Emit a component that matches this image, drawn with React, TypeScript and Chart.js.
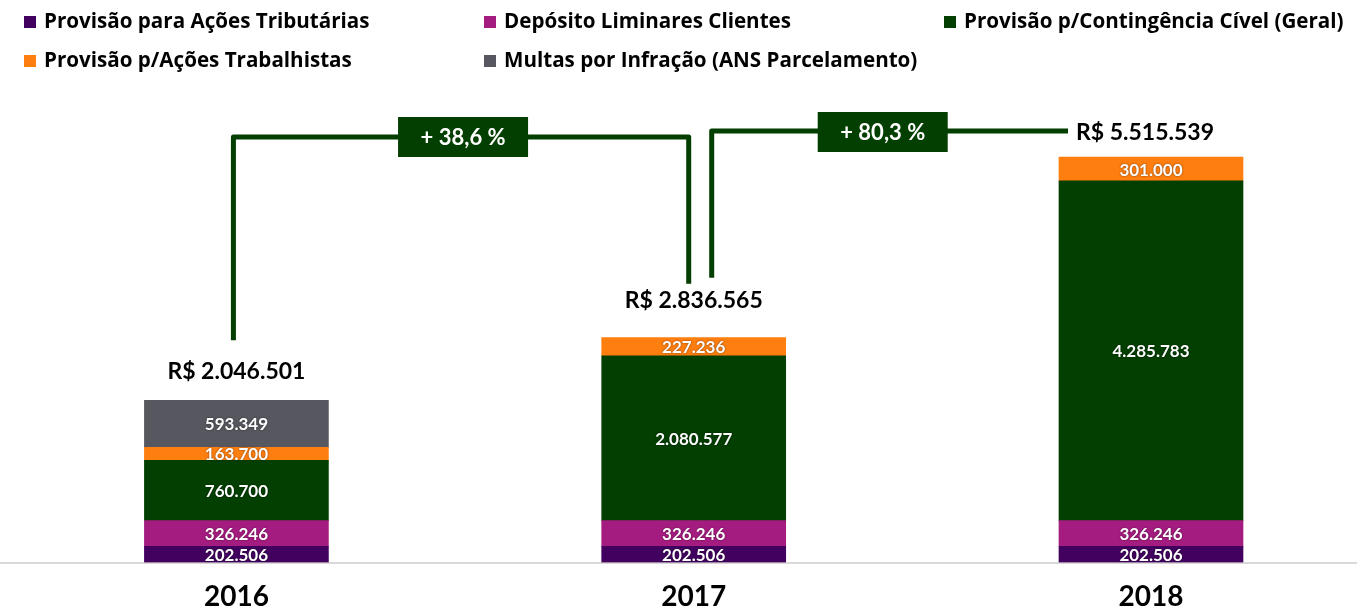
import React, { useEffect, useRef } from 'react';
import { Chart, registerables } from 'chart.js';

Chart.register(...registerables);

// ---- data ----
const years = ['2016', '2017', '2018'];
const seriesNames = [
  'Provisão para Ações Tributárias',
  'Depósito Liminares Clientes',
  'Provisão p/Contingência Cível (Geral)',
  'Provisão p/Ações Trabalhistas',
  'Multas por Infração (ANS Parcelamento)',
];
const tributarias = [202506, 202506, 202506];
const depositos = [326246, 326246, 326246];
const civel = [760700, 2080577, 4285783];
const trabalhistas = [163700, 227236, 301000];
const multas = [593349, null, null];
const totalLabels = ['R$ 2.046.501', 'R$ 2.836.565', 'R$ 5.515.539'];
const growthLabels = ['+ 38,6 %', '+ 80,3 %'];

// ---- style ----
const seriesColors = ['#42005f', '#a51c80', '#033f00', '#fe7e10', '#57585f'];
const FONT = 'Lato, "Open Sans", sans-serif';
const LEGEND_FONT = '"Open Sans", Lato, sans-serif';
const BRACKET = '#033f00';

function fmt(v: number): string {
  return String(v).replace(/\B(?=(\d{3})+(?!\d))/g, '.');
}

const seriesValues = [tributarias, depositos, civel, trabalhistas, multas];

const overlayPlugin = {
  id: 'overlay',
  afterDraw(chart: any) {
    const ctx = chart.ctx as CanvasRenderingContext2D;
    const xs = chart.scales.x;
    const ys = chart.scales.y;

    // legend (3-column grid)
    const colX = [24, 484, 944];
    const rowY = [22, 61];
    chart.data.datasets.forEach((ds: any, i: number) => {
      const col = i % 3;
      const row = Math.floor(i / 3);
      const x = colX[col];
      const y = rowY[row];
      ctx.save();
      ctx.fillStyle = ds.backgroundColor;
      ctx.fillRect(x, y - 6, 12, 12);
      ctx.fillStyle = '#000';
      ctx.font = `bold 20.6px ${LEGEND_FONT}`;
      ctx.textAlign = 'left';
      ctx.textBaseline = 'middle';
      ctx.fillText(ds.label, x + 20, y);
      ctx.restore();
    });

    // segment value labels
    chart.data.datasets.forEach((ds: any, di: number) => {
      const meta = chart.getDatasetMeta(di);
      meta.data.forEach((el: any, i: number) => {
        const raw = seriesValues[di][i];
        if (raw == null) return;
        const p = el.getProps(['x', 'y', 'base'], true);
        ctx.save();
        ctx.font = `bold 17px ${FONT}`;
        ctx.fillStyle = '#ffffff';
        ctx.textAlign = 'center';
        ctx.textBaseline = 'middle';
        ctx.shadowColor = 'rgba(0,0,0,0.55)';
        ctx.shadowBlur = 2;
        ctx.fillText(fmt(raw), p.x, (p.y + p.base) / 2 + 1);
        ctx.restore();
      });
    });

    // totals
    const gaps = [29, 37, 25];
    const centers = years.map((_, i) => xs.getPixelForValue(i));
    const tops = years.map((_, i) => {
      let s = 0;
      seriesValues.forEach((arr) => (s += arr[i] || 0));
      return ys.getPixelForValue(s);
    });
    totalLabels.forEach((t, i) => {
      ctx.save();
      ctx.font = `bold 23px ${FONT}`;
      ctx.fillStyle = '#000';
      ctx.textAlign = 'center';
      ctx.textBaseline = 'middle';
      const cx = i === 2 ? centers[i] - 6 : centers[i];
      ctx.fillText(t, cx, tops[i] - gaps[i]);
      ctx.restore();
    });

    // brackets
    ctx.save();
    ctx.strokeStyle = BRACKET;
    ctx.lineWidth = 5;
    ctx.lineJoin = 'round';
    ctx.lineCap = 'butt';
    const b1L = centers[0] - 3;
    const b1R = centers[1] - 5;
    const b1Y = 137;
    ctx.beginPath();
    ctx.moveTo(b1L, tops[0] - 60);
    ctx.lineTo(b1L, b1Y);
    ctx.lineTo(b1R, b1Y);
    ctx.lineTo(b1R, tops[1] - 54);
    ctx.stroke();
    const b2L = centers[1] + 18;
    const b2R = centers[2] - 83;
    const b2Y = 131;
    ctx.beginPath();
    ctx.moveTo(b2L, tops[1] - 60);
    ctx.lineTo(b2L, b2Y);
    ctx.lineTo(b2R, b2Y);
    ctx.stroke();
    ctx.restore();

    // growth boxes
    const boxes = [
      { cx: (b1L + b1R) / 2 + 2, cy: b1Y },
      { cx: b2L + 171, cy: b2Y + 1 },
    ];
    boxes.forEach((b, i) => {
      ctx.save();
      ctx.fillStyle = BRACKET;
      ctx.fillRect(b.cx - 65, b.cy - 20, 130, 40);
      ctx.fillStyle = '#fff';
      ctx.font = `bold 22px ${FONT}`;
      ctx.textAlign = 'center';
      ctx.textBaseline = 'middle';
      ctx.fillText(growthLabels[i], b.cx, b.cy + 1);
      ctx.restore();
    });
  },
};

export default function App() {
  const ref = useRef<HTMLCanvasElement | null>(null);
  useEffect(() => {
    if (!ref.current) return;
    const chart = new Chart(ref.current, {
      type: 'bar',
      data: {
        datasets: seriesNames.map((name, si) => ({
          label: name,
          data: seriesValues[si].map((v, i) => ({ x: i, y: v })),
          backgroundColor: seriesColors[si],
          borderWidth: 0,
          barThickness: 184,
        })),
      },
      options: {
        animation: false,
        responsive: true,
        maintainAspectRatio: false,
        layout: { padding: { top: 87, left: 0, right: 0, bottom: 0 } },
        plugins: { legend: { display: false }, tooltip: { enabled: false }, title: { display: false } },
        scales: {
          x: {
            type: 'linear',
            stacked: true,
            offset: false,
            min: -0.517,
            max: 2.4505,
            afterBuildTicks: (scale: any) => {
              scale.ticks = years.map((_, i) => ({ value: i }));
            },
            afterFit: (scale: any) => {
              scale.height = 47.5;
            },
            ticks: {
              autoSkip: false,
              maxRotation: 0,
              padding: 18,
              color: '#000',
              font: { family: FONT, size: 28, weight: 'bold' },
              callback: (v: any) => years[v as number] ?? '',
            },
            grid: { display: false, drawTicks: false },
            border: { display: true, color: '#d9d9d9', width: 2 },
          },
          y: {
            stacked: true,
            display: false,
            min: 0,
            max: 6000000,
          },
        },
      },
      plugins: [overlayPlugin],
    } as any);
    return () => chart.destroy();
  }, []);
  return (
    <div style={{ position: 'fixed', left: 0, top: 0, width: 1357, height: 610, background: '#fff' }}>
      <canvas ref={ref} />
    </div>
  );
}
